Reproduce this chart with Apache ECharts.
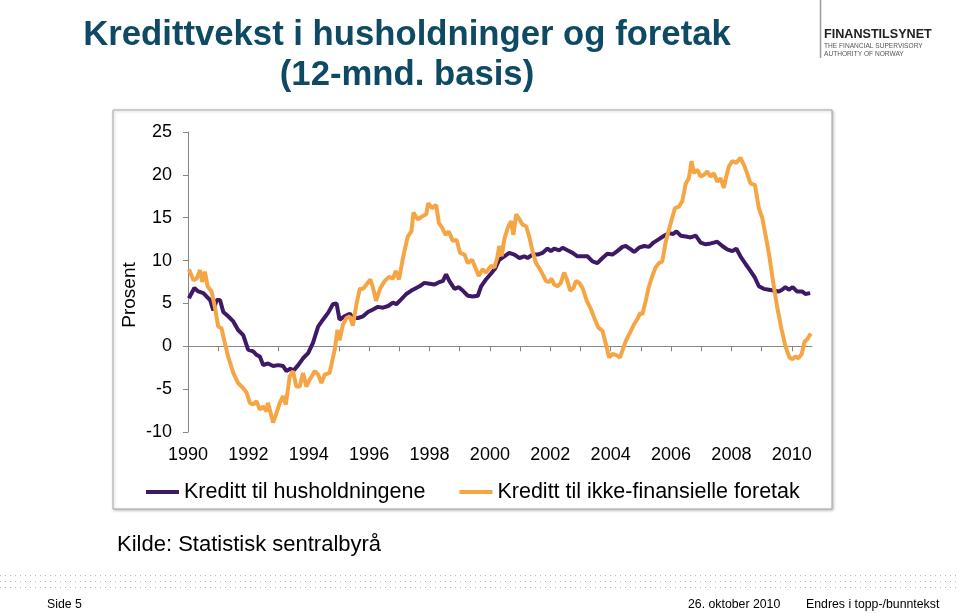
<!DOCTYPE html>
<html>
<head>
<meta charset="utf-8">
<script src="https://cdn.jsdelivr.net/npm/echarts@6/dist/echarts.min.js"></script>
<style>
  html, body { margin: 0; padding: 0; background: #fff; }
  #chart { width: 959px; height: 613px; }
</style>
</head>
<body>
<div id="chart"></div>
<script>
// [year, percent]
const households = [
  [1990.03, 5.6], [1990.21, 6.8], [1990.34, 6.4], [1990.51, 6.2], [1990.62, 5.8], [1990.73, 5.4],
  [1990.84, 4.2], [1990.95, 5.4], [1991.06, 5.4], [1991.17, 4.0], [1991.33, 3.5], [1991.50, 2.9],
  [1991.66, 1.9], [1991.83, 1.3], [1991.99, -0.4], [1992.16, -0.6], [1992.27, -1.0], [1992.38, -1.2],
  [1992.49, -2.2], [1992.65, -2.0], [1992.82, -2.3], [1992.99, -2.2], [1993.15, -2.3], [1993.26, -2.9],
  [1993.40, -2.6], [1993.48, -2.9], [1993.65, -2.2], [1993.81, -1.4], [1993.98, -0.8], [1994.14, 0.4],
  [1994.31, 2.3], [1994.47, 3.1], [1994.64, 3.9], [1994.80, 4.9], [1994.92, 5.0], [1995.02, 3.1],
  [1995.19, 3.5], [1995.36, 3.8], [1995.46, 3.3], [1995.63, 3.3], [1995.80, 3.5], [1995.96, 4.0],
  [1996.13, 4.3], [1996.29, 4.6], [1996.46, 4.5], [1996.63, 4.7], [1996.79, 5.1], [1996.90, 4.9],
  [1997.07, 5.5], [1997.23, 6.1], [1997.40, 6.5], [1997.56, 6.8], [1997.67, 7.0], [1997.83, 7.4],
  [1998.00, 7.3], [1998.17, 7.2], [1998.33, 7.5], [1998.44, 7.6], [1998.55, 8.4], [1998.66, 7.6],
  [1998.83, 6.7], [1998.97, 6.9], [1999.10, 6.5], [1999.27, 5.9], [1999.43, 5.8], [1999.60, 5.9],
  [1999.71, 7.0], [1999.87, 7.8], [2000.04, 8.5], [2000.18, 9.1], [2000.31, 10.1], [2000.48, 10.5],
  [2000.64, 10.9], [2000.81, 10.7], [2000.98, 10.3], [2001.14, 10.5], [2001.25, 10.3], [2001.41, 10.7],
  [2001.58, 10.7], [2001.75, 10.9], [2001.91, 11.4], [2002.02, 11.1], [2002.13, 11.4], [2002.30, 11.2],
  [2002.41, 11.5], [2002.57, 11.2], [2002.74, 10.9], [2002.90, 10.5], [2003.07, 10.5], [2003.23, 10.5],
  [2003.40, 9.9], [2003.56, 9.7], [2003.73, 10.3], [2003.89, 10.8], [2004.06, 10.7], [2004.22, 11.1],
  [2004.39, 11.6], [2004.50, 11.7], [2004.67, 11.3], [2004.78, 11.0], [2004.94, 11.5], [2005.11, 11.7],
  [2005.27, 11.6], [2005.42, 12.1], [2005.60, 12.5], [2005.77, 12.9], [2005.93, 13.2], [2006.07, 13.1],
  [2006.18, 13.4], [2006.32, 12.9], [2006.49, 12.8], [2006.65, 12.7], [2006.82, 12.9], [2006.98, 12.1],
  [2007.15, 11.9], [2007.31, 12.0], [2007.42, 12.1], [2007.53, 12.2], [2007.70, 11.7], [2007.86, 11.3],
  [2008.03, 11.1], [2008.16, 11.4], [2008.30, 10.5], [2008.47, 9.6], [2008.63, 8.8], [2008.78, 8.0],
  [2008.91, 7.0], [2009.07, 6.7], [2009.24, 6.6], [2009.40, 6.5], [2009.57, 6.4], [2009.68, 6.6],
  [2009.79, 6.9], [2009.90, 6.6], [2010.03, 6.9], [2010.17, 6.4], [2010.34, 6.4], [2010.45, 6.1],
  [2010.61, 6.2]
];

const companies = [
  [1990.03, 9.0], [1990.18, 7.7], [1990.29, 7.9], [1990.40, 8.9], [1990.47, 7.5], [1990.56, 8.7],
  [1990.65, 7.0], [1990.78, 6.4], [1990.89, 4.6], [1991.00, 2.3], [1991.11, 2.1], [1991.22, 0.4],
  [1991.33, -1.2], [1991.50, -3.1], [1991.66, -4.3], [1991.83, -4.9], [1991.94, -5.4], [1992.05, -6.6],
  [1992.16, -6.8], [1992.27, -6.4], [1992.38, -7.4], [1992.49, -7.0], [1992.60, -7.6], [1992.65, -6.6],
  [1992.74, -7.8], [1992.82, -8.9], [1992.93, -7.8], [1993.04, -6.6], [1993.15, -5.8], [1993.24, -6.8],
  [1993.37, -3.5], [1993.48, -2.9], [1993.59, -4.7], [1993.70, -4.7], [1993.81, -3.1], [1993.92, -4.7],
  [1994.03, -3.9], [1994.20, -2.9], [1994.31, -3.3], [1994.42, -4.3], [1994.53, -3.3], [1994.69, -3.1],
  [1994.86, -0.4], [1994.95, 1.9], [1995.02, 0.7], [1995.13, 2.5], [1995.25, 3.3], [1995.36, 3.5],
  [1995.46, 2.4], [1995.58, 4.9], [1995.69, 6.7], [1995.80, 6.7], [1995.91, 7.2], [1996.04, 7.8],
  [1996.13, 6.8], [1996.23, 5.3], [1996.36, 6.7], [1996.51, 7.6], [1996.66, 8.1], [1996.79, 7.9],
  [1996.88, 8.8], [1996.99, 7.8], [1997.12, 10.3], [1997.28, 12.8], [1997.40, 13.4], [1997.47, 15.6],
  [1997.61, 14.8], [1997.78, 15.2], [1997.89, 15.4], [1997.96, 16.7], [1998.09, 16.1], [1998.22, 16.5],
  [1998.31, 14.4], [1998.42, 13.8], [1998.53, 13.0], [1998.64, 13.4], [1998.77, 12.3], [1998.90, 12.4],
  [1999.01, 10.9], [1999.16, 10.7], [1999.27, 9.7], [1999.41, 10.1], [1999.54, 9.0], [1999.63, 8.2],
  [1999.76, 9.0], [1999.87, 8.6], [2000.04, 9.4], [2000.15, 9.2], [2000.24, 10.3], [2000.31, 11.7],
  [2000.39, 10.5], [2000.48, 12.5], [2000.59, 13.8], [2000.70, 14.6], [2000.78, 13.0], [2000.87, 15.4],
  [2000.98, 14.8], [2001.08, 14.2], [2001.20, 14.0], [2001.31, 12.7], [2001.41, 11.1], [2001.53, 9.7],
  [2001.69, 8.8], [2001.86, 7.6], [2001.97, 7.5], [2002.04, 7.9], [2002.13, 7.2], [2002.24, 7.0],
  [2002.35, 7.4], [2002.46, 8.6], [2002.55, 7.8], [2002.66, 6.5], [2002.77, 6.8], [2002.85, 7.6],
  [2002.96, 7.4], [2003.07, 6.8], [2003.21, 5.3], [2003.35, 4.3], [2003.46, 3.3], [2003.59, 2.2],
  [2003.73, 1.8], [2003.84, 0.3], [2003.95, -1.3], [2004.06, -0.9], [2004.17, -1.0], [2004.31, -1.3],
  [2004.39, -0.5], [2004.50, 0.6], [2004.67, 1.8], [2004.78, 2.6], [2004.89, 3.2], [2004.98, 3.9],
  [2005.05, 3.7], [2005.16, 5.3], [2005.27, 7.0], [2005.38, 8.2], [2005.49, 9.2], [2005.60, 9.7],
  [2005.71, 9.9], [2005.82, 12.1], [2005.93, 13.6], [2006.04, 15.0], [2006.13, 16.1], [2006.26, 16.3],
  [2006.37, 16.9], [2006.49, 19.0], [2006.59, 19.6], [2006.68, 21.6], [2006.76, 20.2], [2006.87, 20.6],
  [2006.98, 19.8], [2007.09, 20.0], [2007.20, 20.4], [2007.31, 19.8], [2007.42, 20.2], [2007.53, 19.2],
  [2007.64, 19.6], [2007.75, 18.5], [2007.83, 19.8], [2007.92, 21.0], [2008.03, 21.6], [2008.16, 21.4],
  [2008.30, 22.0], [2008.41, 21.2], [2008.52, 20.2], [2008.63, 19.0], [2008.78, 18.8], [2008.91, 16.1],
  [2009.02, 15.0], [2009.13, 13.0], [2009.24, 10.9], [2009.37, 7.8], [2009.51, 4.7], [2009.66, 2.0],
  [2009.79, 0.0], [2009.92, -1.3], [2010.03, -1.5], [2010.12, -1.2], [2010.22, -1.4], [2010.33, -0.9],
  [2010.42, 0.5], [2010.53, 0.9], [2010.63, 1.5]
];

const tickYears = [1990, 1991, 1992, 1993, 1994, 1995, 1996, 1997, 1998, 1999, 2000,
  2001, 2002, 2003, 2004, 2005, 2006, 2007, 2008, 2009, 2010];
const labelYears = [1990, 1992, 1994, 1996, 1998, 2000, 2002, 2004, 2006, 2008, 2010];
const seriesNames = ['Kreditt til husholdningene', 'Kreditt til ikke-finansielle foretak'];

const FONT = 'Liberation Sans, Arial, Helvetica, sans-serif';
const PURPLE = '#3d1966';
const ORANGE = '#f6a545';
const AXIS = '#868686';

function axisText() {
  return { color: '#000', fontSize: 18, fontFamily: FONT };
}

function dottedRow(y) {
  return {
    type: 'line',
    shape: { x1: 0, y1: y, x2: 959, y2: y },
    style: { stroke: '#aeb9c2', lineWidth: 1, lineDash: [1, 4] },
  };
}

function footerText(x, text) {
  return {
    type: 'text', x, y: 605,
    style: { text, fill: '#000', font: '12.3px ' + FONT, textVerticalAlign: 'middle' },
  };
}

const chart = echarts.init(document.getElementById('chart'), null, { renderer: 'canvas' });

chart.setOption({
  animation: false,
  backgroundColor: '#fff',
  title: {
    text: 'Kredittvekst i husholdninger og foretak\n(12-mnd. basis)',
    left: 407, top: 15, padding: 0,
    textAlign: 'center',
    textStyle: { color: '#0f4a64', fontSize: 34.7, fontWeight: 'bold', fontFamily: FONT, lineHeight: 40 },
  },
  legend: {
    left: 146, top: 481, padding: 0,
    icon: 'rect', itemWidth: 33, itemHeight: 4, itemGap: 34,
    textStyle: { color: '#000', fontSize: 21.5, fontFamily: FONT },
    data: seriesNames,
  },
  grid: { left: 188, top: 132, width: 624, height: 300, containLabel: false },
  xAxis: [{
    type: 'value', min: 1990, max: 2010.67,
    axisLine: { onZero: true, lineStyle: { color: AXIS, width: 1 } },
    axisTick: { show: true, length: 5, customValues: tickYears, lineStyle: { color: AXIS } },
    axisLabel: { show: false },
    splitLine: { show: false },
  }, {
    type: 'value', min: 1990, max: 2010.67, position: 'bottom',
    axisLine: { show: false, onZero: false },
    axisTick: { show: false },
    axisLabel: { ...axisText(), margin: 14, customValues: labelYears, formatter: v => String(v) },
    splitLine: { show: false },
  }],
  yAxis: {
    type: 'value', min: -10, max: 25, interval: 5,
    axisLine: { show: true, lineStyle: { color: AXIS, width: 1 } },
    axisTick: { show: true, length: 5, lineStyle: { color: AXIS } },
    axisLabel: { ...axisText(), margin: 16 },
    splitLine: { show: false },
  },
  series: [{
    name: seriesNames[0],
    type: 'line',
    xAxisIndex: 0,
    showSymbol: false,
    data: households,
    itemStyle: { color: PURPLE },
    lineStyle: { color: PURPLE, width: 4 },
    z: 3,
  }, {
    name: seriesNames[1],
    type: 'line',
    xAxisIndex: 0,
    showSymbol: false,
    data: companies,
    itemStyle: { color: ORANGE },
    lineStyle: { color: ORANGE, width: 4 },
    z: 4,
  }],
  graphic: [
    {
      type: 'rect', z: -10,
      shape: { x: 113, y: 110, width: 719, height: 399 },
      style: { fill: '#fff', stroke: '#a9a9a9', lineWidth: 1, shadowBlur: 3, shadowOffsetX: 1, shadowOffsetY: 1, shadowColor: 'rgba(0,0,0,0.25)' },
    },
    {
      type: 'text', x: 130, y: 295, rotation: Math.PI / 2,
      style: { text: 'Prosent', fill: '#000', font: '19px ' + FONT, textAlign: 'center', textVerticalAlign: 'middle' },
    },
    {
      type: 'text', x: 117, y: 545,
      style: { text: 'Kilde: Statistisk sentralbyrå', fill: '#000', font: '22px ' + FONT, textVerticalAlign: 'middle' },
    },
    // logo
    { type: 'line', shape: { x1: 820.5, y1: 0, x2: 820.5, y2: 58 }, style: { stroke: '#9a9a9a', lineWidth: 1.5 } },
    { type: 'text', x: 824, y: 35, style: { text: 'FINANSTILSYNET', fill: '#222', font: 'bold 12.6px ' + FONT, textVerticalAlign: 'middle' } },
    { type: 'text', x: 824, y: 46, style: { text: 'THE FINANCIAL SUPERVISORY', fill: '#555', font: '6.6px ' + FONT, textVerticalAlign: 'middle' } },
    { type: 'text', x: 824, y: 54, style: { text: 'AUTHORITY OF NORWAY', fill: '#555', font: '6.6px ' + FONT, textVerticalAlign: 'middle' } },
    // footer
    dottedRow(575.5), dottedRow(581.5), dottedRow(587.5),
    footerText(47, 'Side 5'),
    footerText(688, '26. oktober 2010'),
    footerText(806, 'Endres i topp-/bunntekst'),
  ],
});
</script>
</body>
</html>
